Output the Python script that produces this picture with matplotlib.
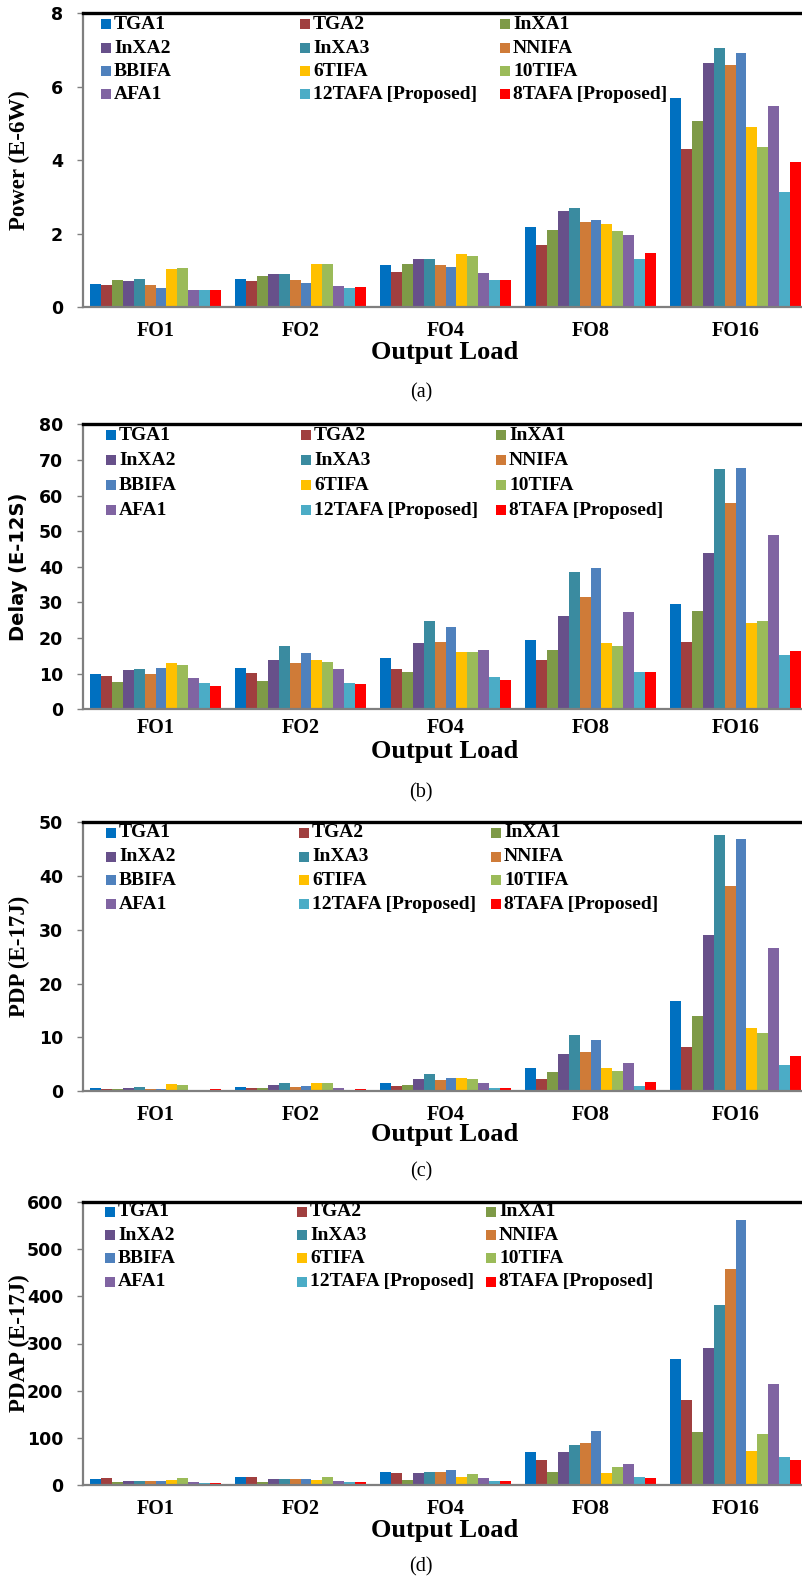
import matplotlib
matplotlib.use('Agg')
import matplotlib.pyplot as plt
from matplotlib.patches import Rectangle
import numpy as np

loads = ['FO1', 'FO2', 'FO4', 'FO8', 'FO16']
series = ['TGA1', 'TGA2', 'InXA1', 'InXA2', 'InXA3', 'NNIFA', 'BBIFA',
          '6TIFA', '10TIFA', 'AFA1', '12TAFA [Proposed]', '8TAFA [Proposed]']
colors = ['#0070C0', '#A03F3F', '#7E9A47', '#67508A', '#3A8BA0', '#CF7B38',
          '#4F81BD', '#FFC000', '#9BBB59', '#8064A2', '#4BACC6', '#FF0000']

# rows = loads (FO1..FO16), columns = series
power = [
    [0.62, 0.59, 0.73, 0.71, 0.75, 0.59, 0.53, 1.04, 1.06, 0.47, 0.45, 0.47],
    [0.76, 0.71, 0.85, 0.89, 0.91, 0.74, 0.65, 1.16, 1.16, 0.57, 0.53, 0.54],
    [1.14, 0.95, 1.16, 1.31, 1.31, 1.15, 1.09, 1.44, 1.38, 0.93, 0.73, 0.74],
    [2.18, 1.70, 2.10, 2.61, 2.71, 2.31, 2.36, 2.25, 2.06, 1.95, 1.30, 1.47],
    [5.68, 4.31, 5.07, 6.64, 7.06, 6.60, 6.92, 4.90, 4.35, 5.47, 3.14, 3.96],
]
delay = [
    [9.9, 9.4, 7.8, 11.0, 11.3, 9.9, 11.6, 13.0, 12.4, 8.7, 7.3, 6.5],
    [11.5, 10.2, 8.0, 13.9, 17.8, 13.1, 15.9, 13.7, 13.3, 11.2, 7.5, 7.1],
    [14.3, 11.2, 10.5, 18.6, 24.8, 19.0, 23.1, 16.1, 16.1, 16.7, 9.0, 8.1],
    [19.5, 13.9, 16.7, 26.2, 38.4, 31.5, 39.8, 18.7, 17.8, 27.3, 10.5, 10.4],
    [29.5, 18.8, 27.6, 43.8, 67.4, 57.8, 67.8, 24.1, 24.7, 48.9, 15.3, 16.3],
]
pdp = [
    [0.57, 0.38, 0.38, 0.57, 0.70, 0.38, 0.44, 1.33, 1.20, 0.19, 0.13, 0.32],
    [0.82, 0.57, 0.57, 1.14, 1.52, 0.82, 0.95, 1.58, 1.46, 0.50, 0.20, 0.38],
    [1.58, 0.95, 1.14, 2.28, 3.16, 2.09, 2.47, 2.34, 2.15, 1.46, 0.50, 0.57],
    [4.3, 2.3, 3.5, 6.9, 10.4, 7.3, 9.5, 4.3, 3.7, 5.3, 1.0, 1.6],
    [16.7, 8.2, 14.0, 29.0, 47.6, 38.1, 46.8, 11.8, 10.7, 26.7, 4.8, 6.5],
]
pdap = [
    [11.8, 13.9, 5, 8, 7, 7, 7, 9, 13.9, 5, 4, 4],
    [16, 17.4, 6, 12.5, 12.5, 12.5, 12.5, 10, 16, 7, 5, 5],
    [27.8, 24.3, 11, 25, 26.4, 26.4, 30.6, 15.3, 22.2, 13.2, 8, 7],
    [69, 53, 28, 69, 84, 89, 114, 25, 37.5, 43, 17, 14],
    [268, 180, 112, 290, 381, 458, 562, 72, 108, 215, 59, 53],
]

W, H = 802, 1580
fig = plt.figure(figsize=(W / 100, H / 100), dpi=100)

SERIF = ['Liberation Serif', 'DejaVu Serif']
NARROW = ['Liberation Sans Narrow', 'DejaVu Sans']
SANS = ['DejaVu Sans']

AX_L, AX_R = 83, 808

panels = [
    dict(data=power, ymax=8, step=2, ylabel='Power (E-6W)', yfont=SERIF, ysize=16.5,
         top=13.3, bot=307, fo=25, ol=46, cap=86, tag='(a)',
         legx=[101, 300, 500], legy=[11, 35, 58, 81]),
    dict(data=delay, ymax=80, step=10, ylabel='Delay (E-12S)', yfont=SANS, ysize=14,
         top=424.3, bot=709.3, fo=20, ol=42, cap=84, tag='(b)',
         legx=[106, 301, 496], legy=[11, 36, 61, 86]),
    dict(data=pdp, ymax=50, step=10, ylabel='PDP (E-17J)', yfont=SERIF, ysize=16.5,
         top=822.3, bot=1091, fo=26, ol=44, cap=81, tag='(c)',
         legx=[106, 299, 491], legy=[10.5, 34.5, 58, 82]),
    dict(data=pdap, ymax=600, step=100, ylabel='PDAP (E-17J)', yfont=SERIF, ysize=16.5,
         top=1202.3, bot=1484.7, fo=26, ol=46, cap=82, tag='(d)',
         legx=[105, 297, 486], legy=[9.4, 33, 56, 79.4]),
]

nser = len(series)
bw = 0.901 / nser
x = np.arange(len(loads))


def fx(px):
    return px / W


def fy(py):
    return 1 - py / H


for p in panels:
    vals = np.array(p['data'])
    ax = fig.add_axes([fx(AX_L), fy(p['bot']), (AX_R - AX_L) / W, (p['bot'] - p['top']) / H])
    for j in range(nser):
        ax.bar(x + (j - (nser - 1) / 2) * bw, vals[:, j], width=bw, color=colors[j],
               linewidth=0)
    ax.set_xlim(-0.5, len(loads) - 0.5)
    ax.set_ylim(0, p['ymax'])
    ax.set_yticks(np.arange(0, p['ymax'] + p['step'] / 2, p['step']))
    ax.set_xticks(x)
    ax.set_xticklabels(loads, family=SERIF, fontweight='bold', fontsize=14.5)
    ax.tick_params(axis='x', length=0, pad=(p['fo'] - 11.5) * 0.72)
    ax.tick_params(axis='y', length=4.3, width=1, color='#808080', pad=10, direction='out')
    for lab in ax.get_yticklabels():
        lab.set_family(NARROW)
        lab.set_fontweight('bold')
        lab.set_fontsize(12.5)
    ax.spines['right'].set_visible(False)
    ax.spines['left'].set_color('#7F7F7F')
    ax.spines['left'].set_linewidth(1.6)
    ax.spines['bottom'].set_color('#7F7F7F')
    ax.spines['bottom'].set_linewidth(1.6)
    ax.spines['top'].set_color('black')
    ax.spines['top'].set_linewidth(2.4)

    # y label
    fig.text(fx(19), fy((p['top'] + p['bot']) / 2), p['ylabel'], rotation=90,
             ha='center', va='center', family=p['yfont'], fontweight='bold',
             fontsize=p['ysize'])
    # x label
    fig.text(fx(445), fy(p['bot'] + p['ol']), 'Output Load', ha='center', va='center',
             family=SERIF, fontweight='bold', fontsize=19)
    # panel tag
    fig.text(fx(421), fy(p['bot'] + p['cap']), p['tag'], ha='center', va='center',
             family=SERIF, fontsize=14.5)

    # legend (row-major, 3 columns)
    for i, name in enumerate(series):
        r, c = divmod(i, 3)
        lx = p['legx'][c]
        ly = p['top'] + p['legy'][r]
        fig.add_artist(Rectangle((fx(lx), fy(ly + 5)), 10 / W, 10 / H,
                                 transform=fig.transFigure, color=colors[i], lw=0))
        fig.text(fx(lx + 13), fy(ly), name, ha='left', va='center',
                 family=SERIF, fontweight='bold', fontsize=14)

fig.savefig('out.png', dpi=100)
